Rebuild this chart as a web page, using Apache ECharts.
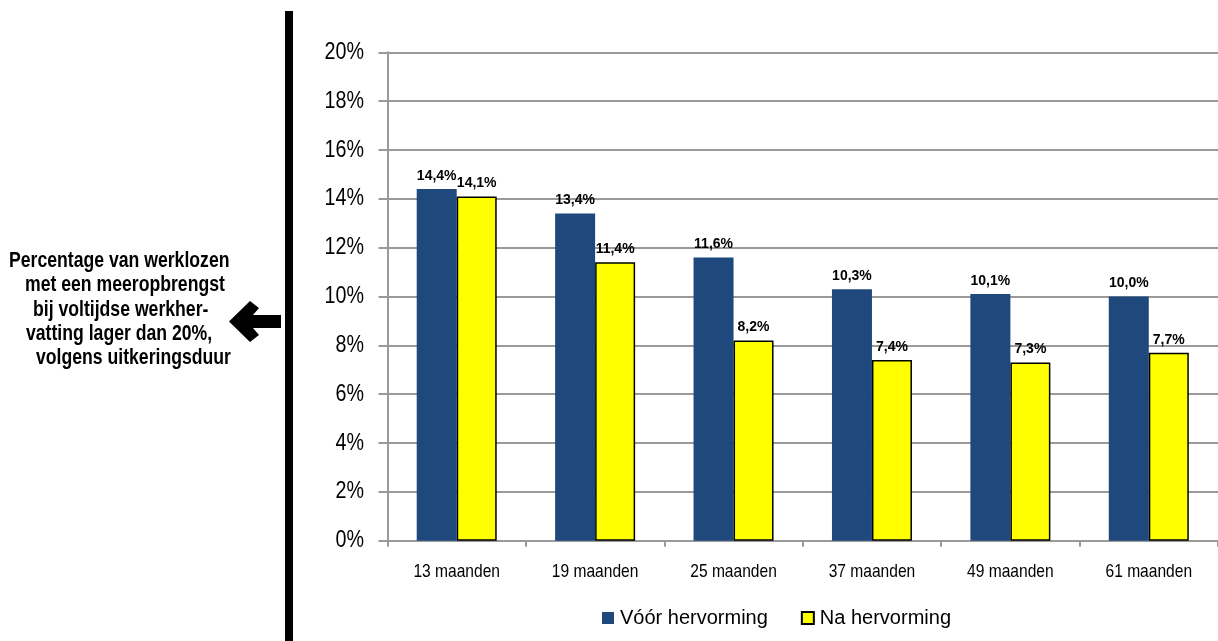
<!DOCTYPE html>
<html>
<head>
<meta charset="utf-8">
<script src="https://cdn.jsdelivr.net/npm/echarts@6/dist/echarts.min.js"></script>
<style>
  html, body { margin: 0; padding: 0; background: #fff; }
  #chart { width: 1218px; height: 641px; }
</style>
</head>
<body>
<div id="chart"></div>
<script>
// Uitkeringsduur (categories)
const categories = ['13 maanden', '19 maanden', '25 maanden', '37 maanden', '49 maanden', '61 maanden'];
// Share of unemployed with gain < 20% on full-time return to work (%)
const voorHervorming = [14.4, 13.4, 11.6, 10.3, 10.1, 10.0];
const naHervorming = [14.1, 11.4, 8.2, 7.4, 7.3, 7.7];
const seriesNames = ['Vóór hervorming', 'Na hervorming'];
const yTickValues = [0, 2, 4, 6, 8, 10, 12, 14, 16, 18, 20];
const sideLines = [
  'Percentage van werklozen',
  'met een meeropbrengst',
  'bij voltijdse werkher-',
  'vatting lager dan 20%,',
  'volgens uitkeringsduur'
];

const SANS = '"Liberation Sans", Arial, sans-serif';
// condensed look for axis / side texts (narrow face emulated by horizontal scaling)
const NARROW_SCALE = 0.82;
const fmt = v => v.toFixed(1).replace('.', ',') + '%';

const chart = echarts.init(document.getElementById('chart'), null, { renderer: 'canvas' });

const dataLabel = {
  show: true, position: 'top', distance: 6,
  fontFamily: SANS, fontWeight: 'bold', fontSize: 14, color: '#000',
  formatter: p => fmt(p.value)
};

chart.setOption({
  animation: false,
  backgroundColor: '#fff',
  grid: { left: 387.5, top: 52.3, width: 835.2, height: 488.4, containLabel: false },
  legend: {
    data: seriesNames,
    left: 597,
    top: 603,
    itemWidth: 12,
    itemHeight: 12,
    itemGap: 33,
    icon: 'rect',
    textStyle: { fontFamily: SANS, fontSize: 20, color: '#000', padding: [0, 0, 0, 1] }
  },
  xAxis: {
    type: 'category',
    data: categories,
    boundaryGap: true,
    axisLine: { lineStyle: { color: '#9a9a9a', width: 2 } },
    axisTick: { show: true, length: 6, lineStyle: { color: '#9a9a9a', width: 2 } },
    axisLabel: { show: false }
  },
  yAxis: {
    type: 'value',
    min: yTickValues[0],
    max: yTickValues[yTickValues.length - 1],
    interval: yTickValues[1] - yTickValues[0],
    axisLine: { show: true, lineStyle: { color: '#9a9a9a', width: 2 } },
    axisTick: { show: true, length: 9, lineStyle: { color: '#9a9a9a', width: 2 } },
    axisLabel: { show: false },
    splitLine: { show: true, lineStyle: { color: '#9a9a9a', width: 2 } }
  },
  series: [
    {
      name: seriesNames[0],
      type: 'bar',
      data: voorHervorming,
      barWidth: 40,
      barGap: '0%',
      itemStyle: { color: '#1f497d' },
      label: dataLabel
    },
    {
      name: seriesNames[1],
      type: 'bar',
      data: naHervorming,
      barWidth: 40,
      barGap: '0%',
      itemStyle: { color: '#ffff00', borderColor: '#000', borderWidth: 1.5 },
      label: dataLabel
    }
  ]
});

// Axis labels placed at the axes' own pixel positions, drawn condensed
const yLabels = yTickValues.map(v => ({
  type: 'text',
  x: 364,
  y: chart.convertToPixel({ yAxisIndex: 0 }, v),
  scaleX: NARROW_SCALE,
  style: {
    text: v + '%', x: 0, y: 0, align: 'right', verticalAlign: 'middle',
    font: '24px ' + SANS, fill: '#000'
  }
}));

const xLabels = categories.map(c => ({
  type: 'text',
  x: chart.convertToPixel({ xAxisIndex: 0 }, c),
  y: 571.7,
  scaleX: NARROW_SCALE,
  style: {
    text: c, x: 0, y: 0, align: 'center', verticalAlign: 'middle',
    font: '19px ' + SANS, fill: '#000'
  }
}));

const sideX = [9, 25, 33, 26, 36];
const sideText = sideLines.map((t, i) => ({
  type: 'text',
  x: sideX[i],
  y: 260.8 + i * 24.4,
  scaleX: NARROW_SCALE,
  style: {
    text: t, x: 0, y: 0, align: 'left', verticalAlign: 'middle',
    font: 'bold 21.5px ' + SANS, fill: '#000'
  }
}));

chart.setOption({
  graphic: [
    // thick divider bar
    { type: 'rect', shape: { x: 285, y: 11, width: 8, height: 640 }, style: { fill: '#000' } },
    // left-pointing arrow
    {
      type: 'polygon',
      shape: {
        points: [[229, 321.5], [250, 301], [259, 308], [253, 315], [281, 315], [281, 328], [253, 328], [259, 335], [250, 342]]
      },
      style: { fill: '#000' }
    }
  ].concat(yLabels, xLabels, sideText)
});
</script>
</body>
</html>
